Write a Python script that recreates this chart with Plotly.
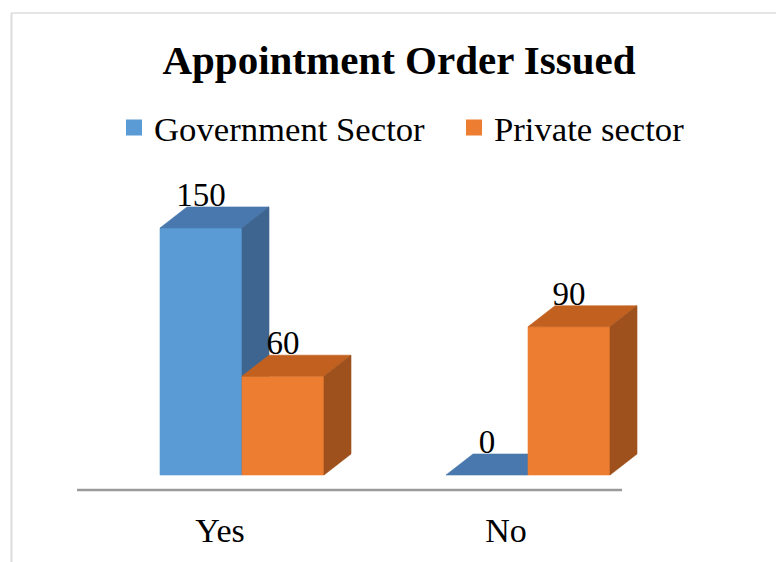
import plotly.graph_objects as go

# ---- data ----
categories = ["Yes", "No"]
series_names = ["Government Sector", "Private sector"]
government = [150, 0]
private = [60, 90]

# ---- styling ----
front_colors = ["#5b9bd5", "#ed7d31"]
top_colors = ["#4878ad", "#c2611f"]
side_colors = ["#3e6590", "#9e511d"]
SERIF = "Liberation Serif, Times New Roman, serif"

# plot-area geometry (px) used for the pseudo-3D extrusion
W, H = 776, 562
L, R, T, B = 12, 0, 180, 72
AXIS_X0, AXIS_X1 = 77, 622       # extent of the category axis line
PX_PER_CAT = 286.0
PX_PER_VAL = 1.647
bar_w = 82 / PX_PER_CAT          # bar width in category units
depth_x = 27 / PX_PER_CAT        # extrusion to the back-right
depth_y = 21 / PX_PER_VAL        # extrusion upward, in value units
label_lift = 9 / PX_PER_VAL      # value label centre above the back edge

x_lo = -(242 - L) / PX_PER_CAT
x_hi = x_lo + (W - L - R) / PX_PER_CAT
y_lo = -15 / PX_PER_VAL
y_hi = y_lo + (H - T - B) / PX_PER_VAL

series = [government, private]
fig = go.Figure()


def face(xs, ys, color):
    fig.add_trace(go.Scatter(
        x=xs + [xs[0]], y=ys + [ys[0]], mode="lines", fill="toself",
        fillcolor=color, line=dict(width=0.6, color=color),
        hoverinfo="skip", showlegend=False))


for i, cat in enumerate(categories):
    for j, values in enumerate(series):
        v = values[i]
        x0 = i + (j - 1) * bar_w
        x1 = x0 + bar_w
        # front face
        if v > 0:
            face([x0, x1, x1, x0], [0, 0, v, v], front_colors[j])
        # top face
        face([x0, x1, x1 + depth_x, x0 + depth_x],
             [v, v, v + depth_y, v + depth_y], top_colors[j])
        # right side face
        if v > 0:
            face([x1, x1 + depth_x, x1 + depth_x, x1],
                 [0, depth_y, v + depth_y, v], side_colors[j])

# value labels
for j, values in enumerate(series):
    fig.add_trace(go.Scatter(
        x=[i + (j - 0.5) * bar_w for i in range(len(categories))],
        y=[v + depth_y + label_lift for v in values],
        mode="text", text=[str(v) for v in values],
        textposition="middle center",
        textfont=dict(family=SERIF, size=33, color="#000000"),
        cliponaxis=False, hoverinfo="skip", showlegend=False))

# legend entries
for j, name in enumerate(series_names):
    fig.add_trace(go.Scatter(
        x=[None], y=[None], mode="markers", name=name,
        marker=dict(symbol="square", size=16, color=front_colors[j])))


def px_to_paper_x(px):
    return (px - L) / (W - L - R)


def px_to_paper_y(py):
    return (H - B - py) / (H - T - B)


fig.update_layout(
    width=W, height=H,
    margin=dict(l=L, r=R, t=T, b=B, autoexpand=False),
    paper_bgcolor="white", plot_bgcolor="white",
    title=dict(text="<b>Appointment Order Issued</b>", x=399 / W, xref="container",
               xanchor="center", y=1 - 60 / H, yanchor="middle",
               font=dict(family=SERIF, size=41, color="#000000")),
    legend=dict(orientation="h", x=px_to_paper_x(114), xanchor="left",
                y=px_to_paper_y(128), yanchor="middle",
                font=dict(family=SERIF, size=34.7, color="#000000"),
                entrywidth=295, bgcolor="rgba(0,0,0,0)"),
    xaxis=dict(range=[x_lo, x_hi], showgrid=False, zeroline=False,
               showline=False, automargin=False,
               tickmode="array", tickvals=[i - 22 / PX_PER_CAT for i in range(len(categories))],
               ticktext=categories, ticks="", ticklabelstandoff=17,
               tickfont=dict(family=SERIF, size=34, color="#000000"),
               fixedrange=True),
    yaxis=dict(range=[y_lo, y_hi], visible=False, fixedrange=True, automargin=False),
    showlegend=True,
    shapes=[
        # category axis line
        dict(type="line", xref="paper", yref="paper",
             x0=px_to_paper_x(AXIS_X0), x1=px_to_paper_x(AXIS_X1), y0=0, y1=0,
             line=dict(color="#9a9a9a", width=2.5)),
        # chart frame (top and left edges)
        dict(type="line", xref="paper", yref="paper",
             x0=px_to_paper_x(11.5), x1=px_to_paper_x(W), y0=px_to_paper_y(13), y1=px_to_paper_y(13),
             line=dict(color="#dcdcdc", width=1.5)),
        dict(type="line", xref="paper", yref="paper",
             x0=px_to_paper_x(11.5), x1=px_to_paper_x(11.5), y0=px_to_paper_y(13), y1=px_to_paper_y(H),
             line=dict(color="#dcdcdc", width=2)),
    ],
)

fig.write_html("out.html")
